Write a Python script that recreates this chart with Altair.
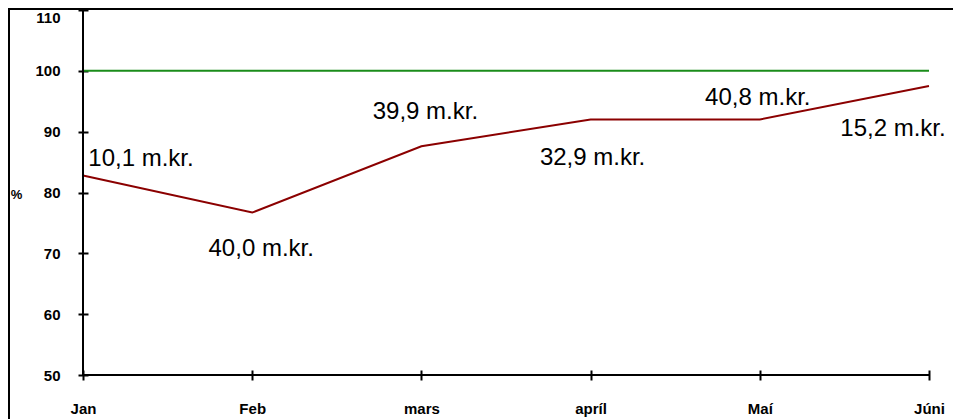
import altair as alt
import pandas as pd

months = ["Jan", "Feb", "mars", "apríl", "Maí", "Júni"]
pct = [82.8, 76.7, 87.6, 92.0, 92.0, 97.5]
target = [100, 100, 100, 100, 100, 100]
labels = ["10,1 m.kr.", "40,0 m.kr.", "39,9 m.kr.", "32,9 m.kr.", "40,8 m.kr.", "15,2 m.kr."]
y_ticks = [50, 60, 70, 80, 90, 100, 110]

# label offsets in pixels (style)
label_offsets = [(58, -16), (9, 36), (4, -34), (2, 38), (-2, -22), (-36, 43)]

FONT = "Liberation Sans"
W, H = 846, 365
PAD = {"left": 75, "top": 2, "right": 24, "bottom": 45}

df = pd.DataFrame({"month": months, "pct": pct, "target": target, "label": labels})
axis_y_df = pd.DataFrame({"month": [months[0]], "pct": [y_ticks[0]], "hi": [y_ticks[-1]]})
axis_x_df = pd.DataFrame({"month": [months[0]], "end": [months[-1]], "pct": [y_ticks[0]]})
one = pd.DataFrame({"a": [0]})

xs = alt.Scale(type="point", domain=months, padding=0)
ys = alt.Scale(domain=[y_ticks[0], y_ticks[-1]], nice=False, zero=False)

xaxis = alt.Axis(title=None, domain=False, grid=False, tickSize=10, offset=-5,
                 labelPadding=21, labelAngle=0)
yaxis = alt.Axis(
    title="%", values=y_ticks, domain=False, grid=False, tickSize=10, offset=-5,
    labelPadding=18,
    labelOffset={"condition": {"test": "datum.value == 110", "value": 7}, "value": 0},
    titleAngle=0, titleX=-72, titleY=184, titleAlign="center", titleBaseline="middle",
)

X = alt.X("month:O", scale=xs, axis=xaxis, title=None)
Y = alt.Y("pct:Q", scale=ys, axis=yaxis, title="%")

red = alt.Chart(df).mark_line(color="#8b0000", strokeWidth=2).encode(x=X, y=Y)

green = alt.Chart(df).mark_line(color="#1a8c1a", strokeWidth=2).encode(
    x=X, y=alt.Y("target:Q", scale=ys, axis=yaxis, title="%"),
)

yline = alt.Chart(axis_y_df).mark_rule(color="black", strokeWidth=2).encode(
    x=X, y=Y, y2="hi:Q",
)
xline = alt.Chart(axis_x_df).mark_rule(color="black", strokeWidth=2).encode(
    x=X, x2="end:O", y=Y,
)

border_left = alt.Chart(one).mark_rule(color="black", strokeWidth=2).encode(
    x=alt.value(-74), y=alt.value(-1), y2=alt.value(H + PAD["bottom"] - 1)
)
border_top = alt.Chart(one).mark_rule(color="black", strokeWidth=2).encode(
    x=alt.value(-75), x2=alt.value(W + PAD["right"]), y=alt.value(-1)
)

texts = []
for i, (dx, dy) in enumerate(label_offsets):
    texts.append(
        alt.Chart(df.iloc[[i]]).mark_text(
            font=FONT, fontSize=24, color="black", align="center", baseline="middle",
            dx=dx, dy=dy,
        ).encode(x=X, y=Y, text="label:N")
    )

chart = alt.layer(red, green, yline, xline, border_left, border_top, *texts).properties(
    width=W, height=H,
    autosize=alt.AutoSizeParams(type="none"),
    padding=PAD,
    background="white",
).configure_view(strokeWidth=0).configure_axis(
    labelFont=FONT, labelFontSize=15, labelFontWeight="bold", labelColor="black",
    titleFont=FONT, titleFontSize=13, titleFontWeight="bold", titleColor="black",
    tickColor="black", tickWidth=2, grid=False, domain=False,
)

chart.save("out.html", embed_options={"renderer": "svg", "actions": False})
